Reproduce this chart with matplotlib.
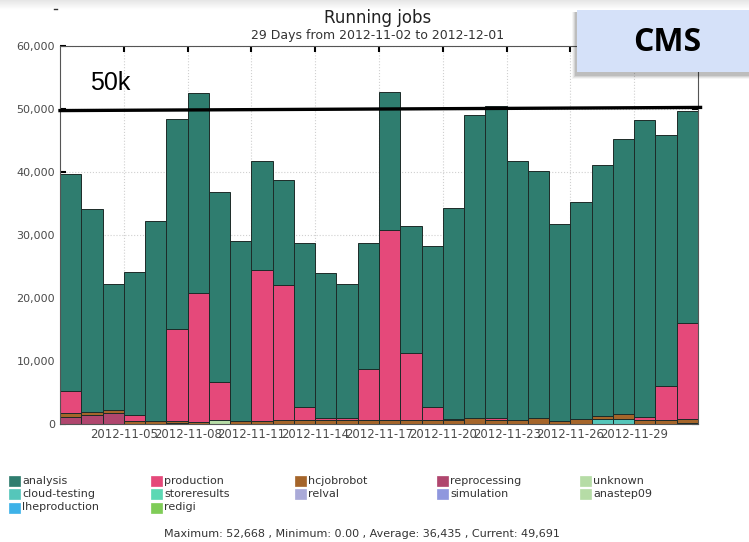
import matplotlib
matplotlib.use("Agg")
import matplotlib.pyplot as plt
import numpy as np
from matplotlib.patches import Rectangle
from matplotlib.lines import Line2D
from matplotlib.ticker import FuncFormatter

W, H = 749, 542

# daily running jobs per activity, 2012-11-02 .. 2012-12-01
analysis = [34500, 32250, 20050, 22700, 31700, 33200, 31700, 30100, 28500, 17200,
            16700, 26000, 23100, 21300, 20000, 21868, 20200, 25500, 33500, 48100,
            49400, 41200, 39320, 31250, 34380, 39770, 43760, 47170, 39950, 33641]
production = [3500, 0, 0, 900, 0, 14600, 20500, 6100, 0, 24000,
              21500, 2100, 300, 300, 8100, 30200, 10700, 2100, 200, 0,
              400, 0, 0, 0, 0, 0, 0, 450, 5400, 15200]
hcjobrobot = [600, 450, 500, 500, 500, 400, 300, 0, 500, 500,
              600, 600, 600, 600, 600, 600, 600, 600, 600, 1000,
              600, 600, 900, 500, 800, 500, 700, 600, 600, 700]
reprocessing = [1100, 1400, 1750, 0, 0, 0, 0, 0, 0, 0,
                0, 0, 0, 0, 0, 0, 0, 0, 0, 0,
                0, 0, 0, 0, 0, 0, 0, 0, 0, 0]
unknown = [0, 0, 0, 0, 0, 150, 0, 620, 0, 0,
           0, 0, 0, 0, 0, 0, 0, 0, 0, 0,
           0, 0, 0, 0, 0, 0, 0, 0, 0, 0]
cloud_testing = [0, 0, 0, 0, 0, 0, 0, 0, 0, 0,
                 0, 0, 0, 0, 0, 0, 0, 0, 0, 0,
                 0, 0, 0, 0, 0, 800, 850, 0, 0, 150]

tick_days = [3, 6, 9, 12, 15, 18, 21, 24, 27]
tick_labels = ["2012-11-05", "2012-11-08", "2012-11-11", "2012-11-14", "2012-11-17",
               "2012-11-20", "2012-11-23", "2012-11-26", "2012-11-29"]

legend_names = ["analysis", "cloud-testing", "lheproduction",
                "production", "storeresults", "redigi",
                "hcjobrobot", "relval",
                "reprocessing", "simulation",
                "unknown", "anastep09"]
colors = {
    "analysis": "#2f7d6f",
    "production": "#e5497a",
    "hcjobrobot": "#a5652a",
    "reprocessing": "#b0466e",
    "unknown": "#b6dca6",
    "cloud-testing": "#55c6ba",
    "storeresults": "#5cd8b4",
    "relval": "#aaaad8",
    "simulation": "#8f97de",
    "anastep09": "#b6dca6",
    "lheproduction": "#3eb2e8",
    "redigi": "#7fcc57",
}

stats = "Maximum: 52,668 , Minimum: 0.00 , Average: 36,435 , Current: 49,691"


def fx(px):
    return px / W


def fy(py):
    return 1 - py / H


fig = plt.figure(figsize=(W / 100, H / 100), dpi=100)
fig.patch.set_facecolor("white")

# faint grey band along the top edge
band = fig.add_axes([0, fy(10), 1, 10 / H])
band.imshow(np.linspace(0.9, 1.0, 20).reshape(-1, 1), cmap="gray", vmin=0, vmax=1,
            aspect="auto", extent=[0, 1, 0, 1])
band.axis("off")
fig.add_artist(Line2D([fx(54), fx(57)], [fy(9), fy(9)], color="#333", lw=1))

ax = fig.add_axes([fx(60), fy(424), (698 - 60) / W, (424 - 46) / H])
x = np.arange(len(analysis))
bottom = np.zeros(len(x))
stack = [("cloud-testing", cloud_testing), ("unknown", unknown),
         ("reprocessing", reprocessing), ("hcjobrobot", hcjobrobot),
         ("production", production), ("analysis", analysis)]
for name, vals in stack:
    vals = np.array(vals, dtype=float)
    ax.bar(x, vals, width=1, align="edge", bottom=bottom, color=colors[name],
           edgecolor="#1d2b28", linewidth=0.7, zorder=2)
    bottom += vals

ax.set_xlim(0, len(x))
ax.set_ylim(0, 60000)
ax.set_yticks(np.arange(0, 60001, 10000))
ax.yaxis.set_major_formatter(FuncFormatter(lambda v, p: f"{int(v):,}"))
ax.set_xticks(tick_days)
ax.set_xticklabels(tick_labels)
ax.tick_params(direction="in", top=True, right=True, length=4, width=1.5,
               labelsize=8, labelcolor="#4a4a4a", color="black")
ax.tick_params(axis="x", pad=3, labelsize=8.4)
ax.set_axisbelow(True)
ax.grid(True, linestyle=":", color="#d0d0d0", linewidth=0.8)
for sp in ax.spines.values():
    sp.set_color("#555")
    sp.set_linewidth(0.8)

# 50k reference line
ax.plot([0, 30.12], [49750, 50250], color="black", lw=2.4, clip_on=False, zorder=5)
fig.text(fx(90), fy(90), "50k", fontsize=18, family="Liberation Sans", va="baseline")

fig.text(fx(378), fy(18), "Running jobs", ha="center", va="center", fontsize=12, color="#222")
fig.text(fx(378), fy(36), "29 Days from 2012-11-02 to 2012-12-01", ha="center",
         va="center", fontsize=9, color="#333")

# legend, five columns filled top to bottom
col_x = [9, 151, 295, 437, 580]
row_y = [480.5, 494, 507.5]
col_sizes = [3, 3, 2, 2, 2]
k = 0
for c, n in enumerate(col_sizes):
    for r in range(n):
        name = legend_names[k]
        k += 1
        fig.add_artist(Rectangle((fx(col_x[c]), fy(row_y[r] + 5)), 11 / W, 10 / H,
                                 transform=fig.transFigure, facecolor=colors[name],
                                 edgecolor=colors[name], lw=0.5))
        fig.text(fx(col_x[c] + 13), fy(row_y[r]), name, fontsize=8, color="#333",
                 va="center")

fig.text(fx(362), fy(534), stats, ha="center", va="center", fontsize=8, color="#333")

# CMS label box with a soft shadow
for i, a in enumerate([0.04, 0.06, 0.08, 0.10]):
    off = 5 - i
    fig.add_artist(Rectangle((fx(577 - off), fy(72 + off + 2)), (749 - 577 + off) / W,
                             (62 + off) / H, transform=fig.transFigure,
                             facecolor="black", alpha=a, lw=0))
fig.add_artist(Rectangle((fx(577), fy(72)), (749 - 577) / W, 62 / H,
                         transform=fig.transFigure, facecolor="#d5e1f9", lw=0))
fig.text(fx(667), fy(42), "CMS", ha="center", va="center", fontsize=23,
         family="Open Sans", weight="bold", color="black")

fig.savefig("out.png", dpi=100)
